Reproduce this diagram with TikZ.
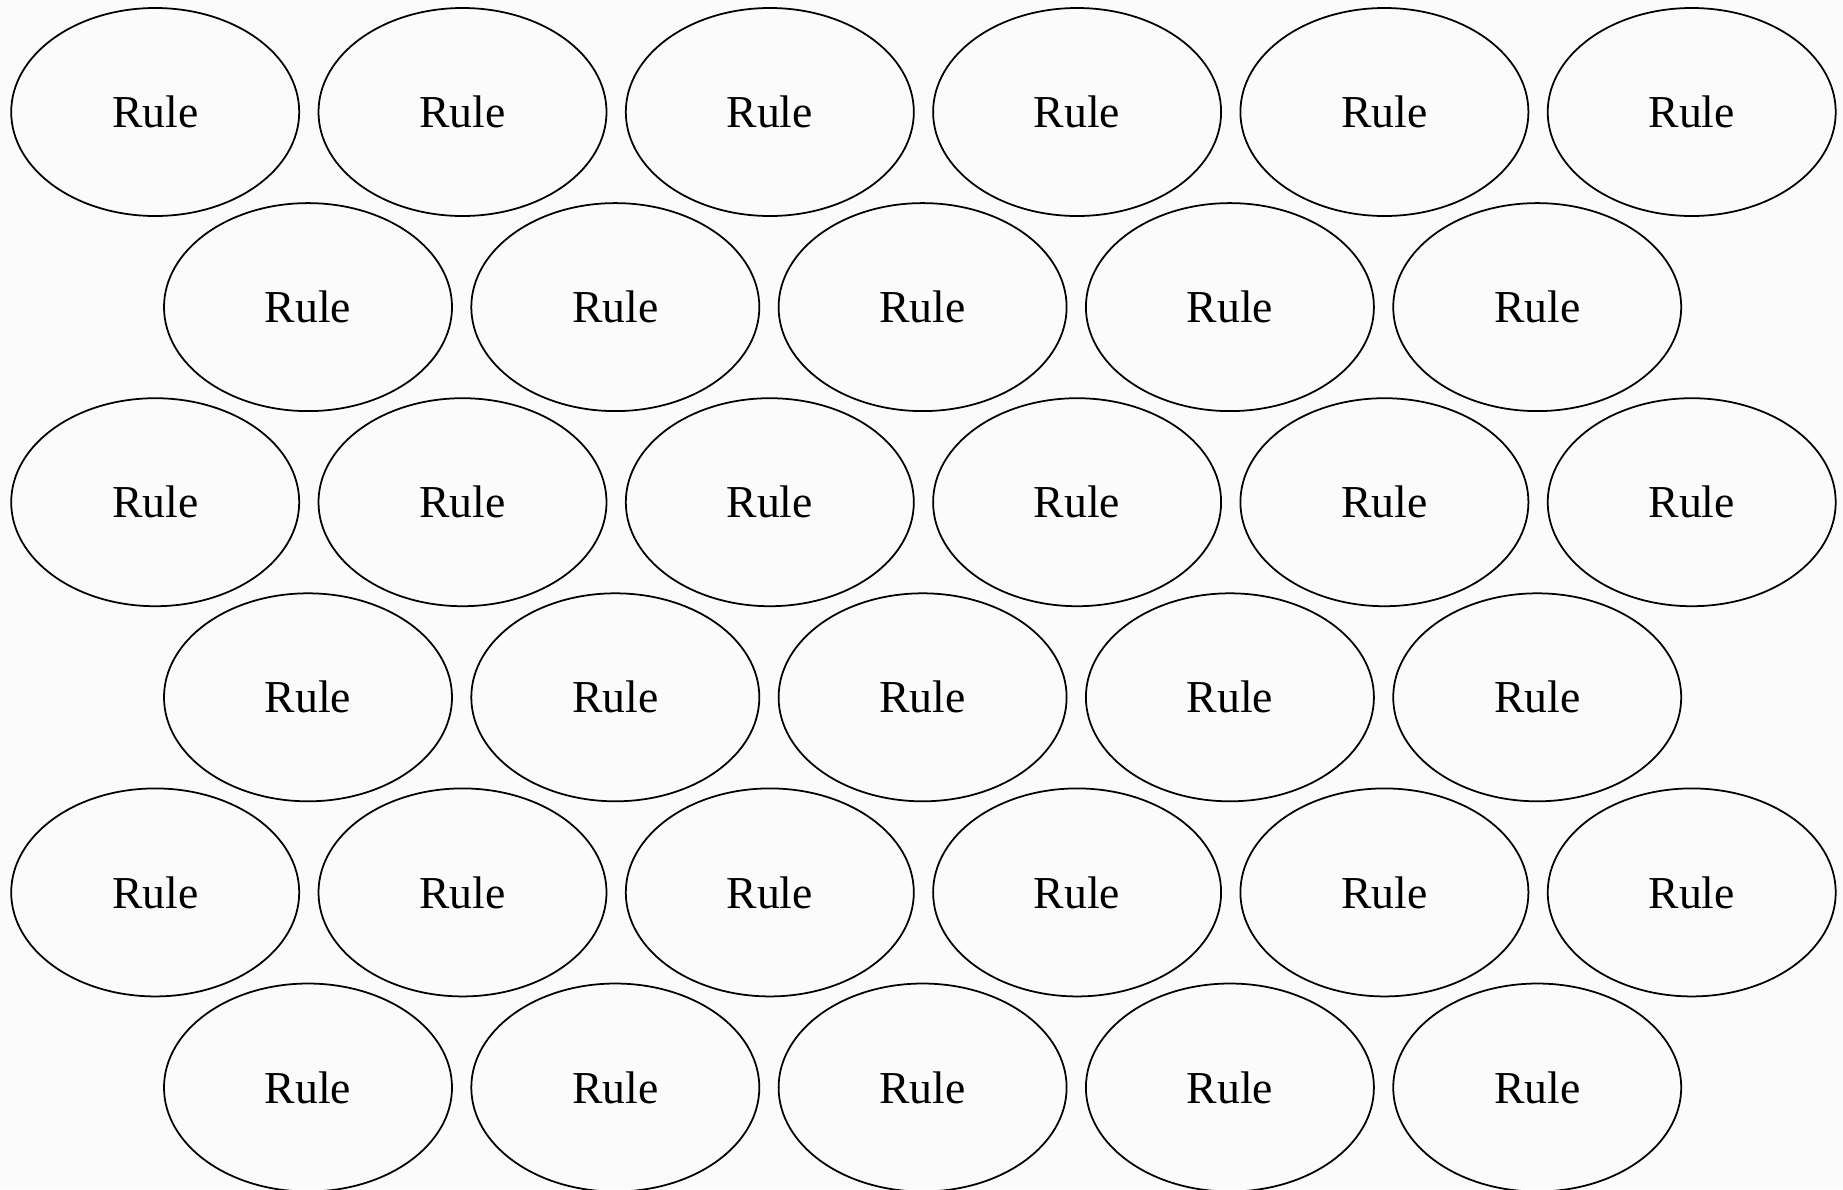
\documentclass[tikz,border=0pt]{standalone}
\usepackage{fontspec}
\setmainfont{Liberation Serif}
\usetikzlibrary{shapes.geometric}
\definecolor{Paper}{HTML}{FBFBFB}

\begin{document}
\begin{tikzpicture}[every node/.style={font=\fontsize{13}{15}\selectfont},
  rulebubble/.style={draw,ellipse,line width=0.5pt,minimum width=2.88cm,minimum height=2.08cm,inner sep=0pt}]
\fill[Paper] (0,0) rectangle (18.43,-11.89);
\useasboundingbox (0,0) rectangle (18.43,-11.89);
% full rows
\foreach \row in {0,2,4} {
  \foreach \col in {0,...,5}
    \node[rulebubble] (r\row-\col) at ({1.552+3.073*\col},{-1.12-1.951*\row}) {Rule};
}
% shifted rows
\foreach \row in {1,3,5} {
  \foreach \col in {0,...,4}
    \node[rulebubble] (r\row-\col) at ({3.08+3.073*\col},{-1.12-1.951*\row}) {Rule};
}
\end{tikzpicture}
\end{document}
